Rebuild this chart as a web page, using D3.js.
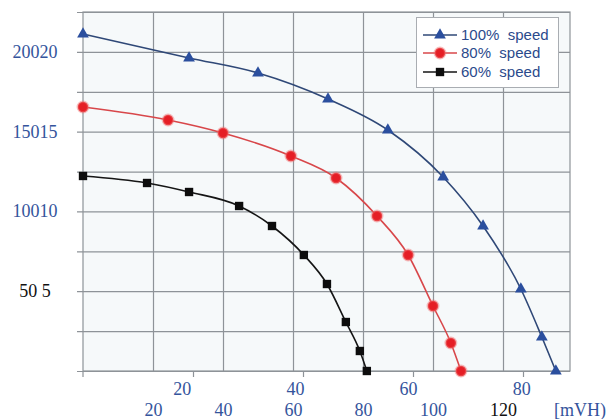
<!DOCTYPE html>
<html>
<head>
<meta charset="utf-8">
<script src="https://cdn.jsdelivr.net/npm/d3@7"></script>
<style>
  html, body { margin: 0; padding: 0; background: #ffffff; }
  svg { display: block; }
</style>
</head>
<body>
<svg id="chart" width="609" height="419"></svg>
<script>
// ---- data ----
const series100X = [0, 30.3, 50, 70, 87.1, 102.9, 114.3, 125.1, 131.1, 135.1];
const series100Y = [21143, 19638, 18697, 17065, 15120, 12172, 9097, 5145, 2133, 0];
const series80X  = [0, 24.3, 40, 59.4, 72.3, 84, 92.9, 100, 105.1, 108];
const series80Y  = [16563, 15748, 14932, 13489, 12109, 9725, 7278, 4078, 1757, 0];
const series60X  = [0, 18.3, 30.3, 44.6, 54, 63.1, 69.7, 75.1, 79.1, 81.1];
const series60Y  = [12234, 11795, 11230, 10352, 9097, 7278, 5458, 3074, 1255, 0];
const seriesNames = ["100%  speed", "80%  speed", "60%  speed"];

const yTickValues = [5005, 10010, 15015, 20020];
const yTickLabels = ["50 5", "10010", "15015", "20020"];
const xTickValues = [20, 40, 60, 80, 100, 120];
const xTickLabels = ["20", "40", "60", "80", "100", "120"];
const xTopTickValues = [20, 40, 60, 80];
const xTopTickLabels = ["20", "40", "60", "80"];
const xUnitLabel = "[mVH)";

// ---- layout ----
const svg = d3.select("#chart");
const L = 83, R = 570, T = 12, B = 371;
const x = d3.scaleLinear().domain([0, (R - L) / 3.5]).range([L, R]);
const y = d3.scaleLinear().domain([0, 22522.5]).range([B, T]);
const xTopTicks = d3.scaleLinear().domain([0, 80]).range([L, L + 440]);
const xTopLabels = d3.scaleLinear().domain([0, 80]).range([68.5, 521.3]);

const blue = "#34549c";
const gridColor = "#8e9398";
const serif = "'Liberation Serif', 'Times New Roman', serif";

// plot background
svg.append("rect").attr("x", L).attr("y", T).attr("width", R - L).attr("height", B - T)
  .attr("fill", "#f6f9fa");

// horizontal grid
const yGrid = d3.range(1, 10).map(i => i * 2502.5);
svg.append("g").attr("transform", `translate(${L},0)`)
  .call(d3.axisLeft(y).tickValues([0].concat(yGrid)).tickSize(-(R - L) - 0).tickFormat(""))
  .call(g => g.select(".domain").remove())
  .call(g => g.selectAll(".tick line").attr("stroke", gridColor).attr("stroke-width", 1.2).attr("x1", -6));

// vertical grid
svg.append("g").attr("transform", `translate(0,${B})`)
  .call(d3.axisBottom(x).tickValues([20, 40, 60, 80, 100, 120]).tickSize(-(B - T)).tickFormat(""))
  .call(g => g.select(".domain").remove())
  .call(g => g.selectAll(".tick line").attr("stroke", gridColor).attr("stroke-width", 1.2));

// frame
svg.append("rect").attr("x", L).attr("y", T).attr("width", R - L).attr("height", B - T)
  .attr("fill", "none").attr("stroke", gridColor).attr("stroke-width", 1.2);
svg.append("line").attr("x1", L).attr("x2", L).attr("y1", B).attr("y2", B + 6)
  .attr("stroke", gridColor).attr("stroke-width", 1.2);

// top-row tick marks
svg.append("g").attr("transform", `translate(0,${B})`)
  .call(d3.axisBottom(xTopTicks).tickValues(xTopTickValues).tickSize(6).tickFormat(""))
  .call(g => g.select(".domain").remove())
  .call(g => g.selectAll(".tick line").attr("stroke", gridColor).attr("stroke-width", 1.2));

// top-row labels
svg.append("g").attr("transform", `translate(0,382)`)
  .call(d3.axisBottom(xTopLabels).tickValues(xTopTickValues).tickSize(0)
    .tickFormat((d, i) => xTopTickLabels[i]))
  .call(g => g.select(".domain").remove())
  .call(g => g.selectAll(".tick text").attr("fill", blue)
    .style("font-family", serif).style("font-size", "18px").attr("dy", "0.71em").attr("y", 0));

// bottom-row labels
const bottomColors = [blue, blue, blue, blue, blue, "#111111"];
svg.append("g").attr("transform", `translate(0,403)`)
  .call(d3.axisBottom(x).tickValues(xTickValues).tickSize(0)
    .tickFormat((d, i) => xTickLabels[i]))
  .call(g => g.select(".domain").remove())
  .call(g => g.selectAll(".tick text").attr("fill", (d, i) => bottomColors[i])
    .style("font-family", serif).style("font-size", "18px").attr("dy", "0.71em").attr("y", 0));
svg.append("text").attr("x", x(142)).attr("y", 416).attr("text-anchor", "middle")
  .attr("fill", blue).style("font-family", serif).style("font-size", "18px").text(xUnitLabel);

// y labels
const yColors = ["#111111", blue, blue, blue];
svg.append("g").attr("transform", `translate(35,0)`)
  .call(d3.axisLeft(y).tickValues(yTickValues).tickSize(0)
    .tickFormat((d, i) => yTickLabels[i]))
  .call(g => g.select(".domain").remove())
  .call(g => g.selectAll(".tick text").attr("fill", (d, i) => yColors[i])
    .attr("text-anchor", "middle").attr("x", 0).attr("dy", "0.3em")
    .style("font-family", serif).style("font-size", "18px"));

// series
const seriesDefs = [
  { xs: series100X, ys: series100Y, line: "#2f4877", fill: "#2b4f9e", shape: d3.symbolTriangle, size: 60, halo: null },
  { xs: series80X,  ys: series80Y,  line: "#d8474a", fill: "#e51e25", shape: d3.symbolCircle, size: 85, halo: "rgba(240,110,110,0.45)" },
  { xs: series60X,  ys: series60Y,  line: "#151515", fill: "#0d0d0d", shape: d3.symbolSquare, size: 70, halo: null }
];
const lineGen = d3.line().x(d => x(d[0])).y(d => y(d[1])).curve(d3.curveMonotoneX);

seriesDefs.forEach(s => {
  const pts = s.xs.map((v, i) => [v, s.ys[i]]);
  svg.append("path").datum(pts).attr("d", lineGen).attr("fill", "none")
    .attr("stroke", s.line).attr("stroke-width", 1.6);
  svg.append("g").selectAll("path").data(pts).join("path")
    .attr("transform", d => `translate(${x(d[0])},${y(d[1])})`)
    .attr("d", d3.symbol().type(s.shape).size(s.size))
    .attr("fill", s.fill)
    .attr("stroke", s.halo || "none").attr("stroke-width", s.halo ? 2.5 : 0);
});

// legend
const lg = svg.append("g");
lg.append("rect").attr("x", 416.5).attr("y", 17.5).attr("width", 142).attr("height", 70)
  .attr("fill", "#ffffff").attr("stroke", "#a9adb2").attr("stroke-width", 1);
seriesDefs.forEach((s, i) => {
  const cy = [35, 53, 72][i];
  lg.append("line").attr("x1", 423).attr("x2", 457).attr("y1", cy).attr("y2", cy)
    .attr("stroke", s.line).attr("stroke-width", 1.6);
  lg.append("path").attr("transform", `translate(440,${cy})`)
    .attr("d", d3.symbol().type(s.shape).size(s.size)).attr("fill", s.fill)
    .attr("stroke", s.halo || "none").attr("stroke-width", s.halo ? 2.5 : 0);
  lg.append("text").attr("x", 461).attr("y", cy).attr("dy", "0.36em")
    .attr("fill", "#2b4a8c").attr("xml:space", "preserve").style("white-space", "pre")
    .style("font-family", "'Liberation Sans', Arial, sans-serif").style("font-size", "15px")
    .text(seriesNames[i]);
});
</script>
</body>
</html>
